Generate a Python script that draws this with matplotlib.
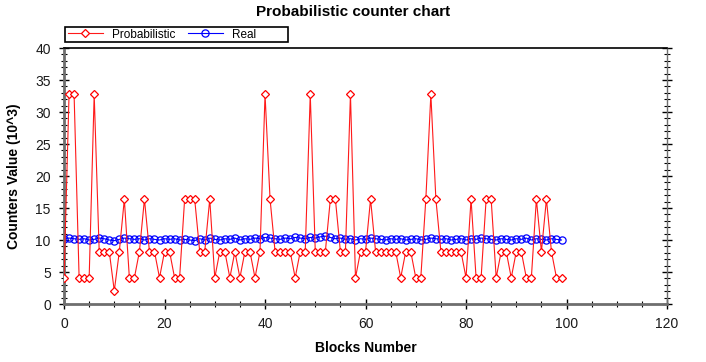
import matplotlib
matplotlib.use("Agg")
import matplotlib.pyplot as plt
from matplotlib.ticker import MultipleLocator
from matplotlib.patches import Rectangle

plt.rcParams['font.family'] = ['Liberation Sans', 'DejaVu Sans']

blocks = list(range(100))
probabilistic = [
    4.1, 32.77, 32.77, 4.1, 4.1, 4.1, 32.77, 8.19, 8.19, 8.19,
    2.05, 8.19, 16.38, 4.1, 4.1, 8.19, 16.38, 8.19, 8.19, 4.1,
    8.19, 8.19, 4.1, 4.1, 16.38, 16.38, 16.38, 8.19, 8.19, 16.38,
    4.1, 8.19, 8.19, 4.1, 8.19, 4.1, 8.19, 8.19, 4.1, 8.19,
    32.77, 16.38, 8.19, 8.19, 8.19, 8.19, 4.1, 8.19, 8.19, 32.77,
    8.19, 8.19, 8.19, 16.38, 16.38, 8.19, 8.19, 32.77, 4.1, 8.19,
    8.19, 16.38, 8.19, 8.19, 8.19, 8.19, 8.19, 4.1, 8.19, 8.19,
    4.1, 4.1, 16.38, 32.77, 16.38, 8.19, 8.19, 8.19, 8.19, 8.19,
    4.1, 16.38, 4.1, 4.1, 16.38, 16.38, 4.1, 8.19, 8.19, 4.1,
    8.19, 8.19, 4.1, 4.1, 16.38, 8.19, 16.38, 8.19, 4.1, 4.1,
]
real = [
    10.2, 10.3, 10.2, 10.1, 10.2, 10.0, 10.1, 10.3, 10.2, 10.0,
    9.9, 10.1, 10.3, 10.2, 10.1, 10.2, 10.0, 10.2, 10.1, 10.0,
    10.2, 10.1, 10.2, 10.0, 10.1, 10.0, 9.9, 10.2, 10.0, 10.3,
    10.1, 10.0, 10.2, 10.1, 10.3, 10.0, 10.2, 10.1, 10.3, 10.2,
    10.4, 10.3, 10.2, 10.1, 10.3, 10.2, 10.4, 10.3, 10.2, 10.4,
    10.3, 10.5, 10.6, 10.4, 10.2, 10.3, 10.1, 10.2, 10.0, 10.2,
    10.1, 10.3, 10.2, 10.1, 10.0, 10.2, 10.1, 10.2, 10.0, 10.1,
    10.2, 10.0, 10.1, 10.3, 10.2, 10.1, 10.2, 10.0, 10.1, 10.2,
    10.0, 10.2, 10.1, 10.3, 10.2, 10.1, 10.0, 10.2, 10.1, 10.0,
    10.2, 10.1, 10.3, 10.0, 10.2, 10.1, 10.0, 10.2, 10.1, 10.0,
]

fig = plt.figure(figsize=(7.06, 3.62), dpi=100)
ax = fig.add_axes([0.0907, 0.1602, 0.8541, 0.7072])

ax.plot(blocks, probabilistic, color='#ff1a1a', lw=0.8, marker='D', markersize=4.2,
        markerfacecolor='white', markeredgecolor='red', markeredgewidth=0.9,
        label='Probabilistic', zorder=3)
ax.plot(blocks, real, color='blue', lw=0.8, marker='o', markersize=5.2,
        markerfacecolor='none', markeredgecolor='blue', markeredgewidth=0.9,
        label='Real', zorder=2)

ax.set_xlim(0, 120)
ax.set_ylim(0, 40)
ax.xaxis.set_major_locator(MultipleLocator(20))
ax.xaxis.set_minor_locator(MultipleLocator(5))
ax.yaxis.set_major_locator(MultipleLocator(5))
ax.yaxis.set_minor_locator(MultipleLocator(1))

for s in ['left', 'bottom']:
    ax.spines[s].set_color('#6e6e6e')
    ax.spines[s].set_linewidth(2)
ax.spines['right'].set_color('#6e6e6e')
ax.spines['right'].set_linewidth(1.0)
ax.spines['top'].set_color('black')
ax.spines['top'].set_linewidth(1.2)

ax.tick_params(which='major', direction='inout', length=7, width=1, color='black',
               labelsize=10, labelcolor='#1a1a1a')
ax.tick_params(which='minor', direction='inout', length=4, width=0.8, color='black')
ax.tick_params(axis='y', which='minor', right=True)
ax.tick_params(axis='y', which='major', right=True, length=5)
ax.tick_params(axis='y', which='major', left=True, length=7)
ax.tick_params(axis='x', which='major', pad=6)
ax.tick_params(axis='y', which='major', pad=6)

ax.set_xlabel('Blocks Number', fontsize=10, fontweight='bold', labelpad=7)
ax.set_ylabel('Counters Value (10^3)', fontsize=10, fontweight='bold', labelpad=10)

fig.text(0.5, 0.985, 'Probabilistic counter chart', ha='center', va='top',
         fontsize=11, fontweight='bold')

leg = fig.legend(loc='center left', bbox_to_anchor=(0.094, 0.9045), ncol=2,
                 fontsize=8.5, frameon=False, borderpad=0.1,
                 handlelength=3, handletextpad=0.8, columnspacing=1.0,
                 borderaxespad=0)
fig.patches.append(Rectangle((0.092, 0.884), 0.316, 0.041, transform=fig.transFigure,
                             fill=False, edgecolor='black', linewidth=1.2))

fig.savefig('out.png', dpi=100)
